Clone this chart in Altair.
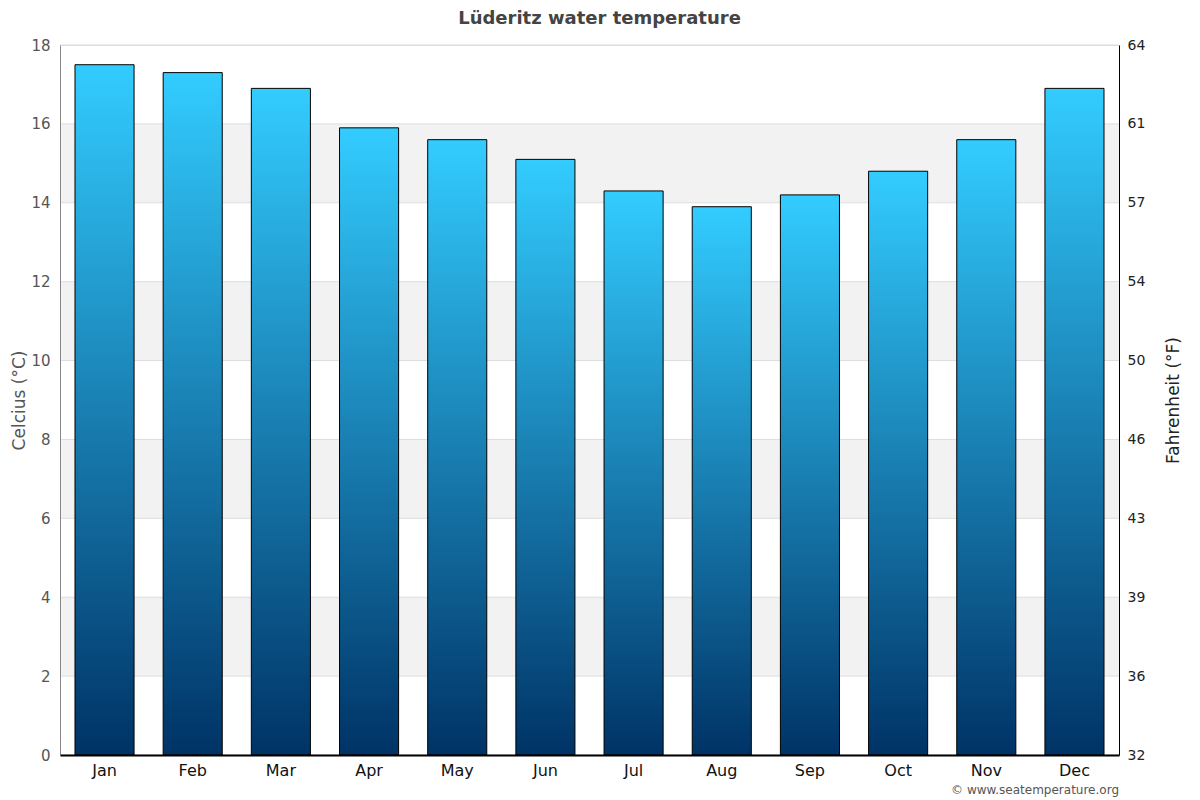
import altair as alt
import pandas as pd

months = ["Jan", "Feb", "Mar", "Apr", "May", "Jun", "Jul", "Aug", "Sep", "Oct", "Nov", "Dec"]
water_c = [17.5, 17.3, 16.9, 15.9, 15.6, 15.1, 14.3, 13.9, 14.2, 14.8, 15.6, 16.9]
band_lo = [2, 6, 10, 14]
band_hi = [4, 8, 12, 16]
celsius_ticks = [0, 2, 4, 6, 8, 10, 12, 14, 16, 18]
credit = ["© www.seatemperature.org"]

df = pd.DataFrame({"month": months, "temp": water_c})
bands = pd.DataFrame({"lo": band_lo, "hi": band_hi})
credit_df = pd.DataFrame({"t": credit})

FONT = "DejaVu Sans"
ydom = [0, 18]
yscale = alt.Scale(domain=ydom, nice=False, zero=True)
xscale = alt.Scale(paddingInner=0.33, paddingOuter=0.17)


def x_axis():
    return alt.Axis(title=None, labelAngle=0, labelFontSize=16, labelColor="#111",
                    labelFont=FONT, domainColor="black", domainWidth=2,
                    ticks=False, labelPadding=7, zindex=2)


band_layer = alt.Chart(bands).mark_rect(color="#f2f2f2").encode(
    y=alt.Y("lo:Q", scale=yscale, axis=None),
    y2="hi:Q",
)

# grid lines drawn as rules from tick values
grid_df = pd.DataFrame({"v": celsius_ticks})
grid_layer = alt.Chart(grid_df).mark_rule(color="#dddddd", strokeWidth=1).encode(
    y=alt.Y("v:Q", scale=yscale, axis=None),
)

grad = alt.Gradient(
    gradient="linear",
    stops=[alt.GradientStop(color="#33ccff", offset=0),
           alt.GradientStop(color="#003366", offset=1)],
    x1=0, x2=0, y1=0, y2=1,
)

bars = alt.Chart(df).mark_bar(color=grad, stroke="black", strokeWidth=1).encode(
    x=alt.X("month:N", sort=months, scale=xscale, axis=x_axis()),
    y=alt.Y("temp:Q", scale=yscale,
            axis=alt.Axis(orient="left", values=celsius_ticks, title="Celcius (°C)",
                          titleFont=FONT, titleFontSize=17, titleFontWeight="normal",
                          titleColor="#555", titlePadding=2, labelFont=FONT,
                          labelFontSize=15, labelColor="#555", labelPadding=10,
                          ticks=False, domainColor="#888", domainWidth=1, grid=False,
                          zindex=1)),
)

right = alt.Chart(df).mark_bar(opacity=0).encode(
    x=alt.X("month:N", sort=months, scale=xscale, axis=x_axis()),
    y=alt.Y("temp:Q", scale=yscale,
            axis=alt.Axis(orient="right", values=celsius_ticks,
                          labelExpr="format(round(datum.value*9/5+32), 'd')",
                          title="Fahrenheit (°F)", titleFont=FONT, titleFontSize=17,
                          titleFontWeight="normal", titleColor="#222", titlePadding=38,
                          titleAngle=270,
                          labelFont=FONT, labelFontSize=14, labelColor="#222",
                          labelPadding=8, ticks=False, domainColor="black",
                          domainWidth=1, grid=False, zindex=1)),
)

credit_layer = alt.Chart(credit_df).mark_text(
    align="right", baseline="middle", font=FONT, fontSize=12, color="#555"
).encode(text="t:N", x=alt.value(1059), y=alt.value(745))

chart = alt.layer(band_layer, grid_layer, bars, right, credit_layer).resolve_scale(
    y="independent"
).properties(
    width=1059,
    height=710,
    padding={"left": 52, "top": 37, "right": 72, "bottom": 47},
    autosize=alt.AutoSizeParams(type="none"),
    title=alt.TitleParams("Lüderitz water temperature", font=FONT, fontSize=18,
                          fontWeight="bold", color="#444", offset=10, anchor="middle",
                          dx=10),
).configure_view(stroke="transparent").configure(background="white")

chart.save("out.html", embed_options={"renderer": "svg", "actions": False})
